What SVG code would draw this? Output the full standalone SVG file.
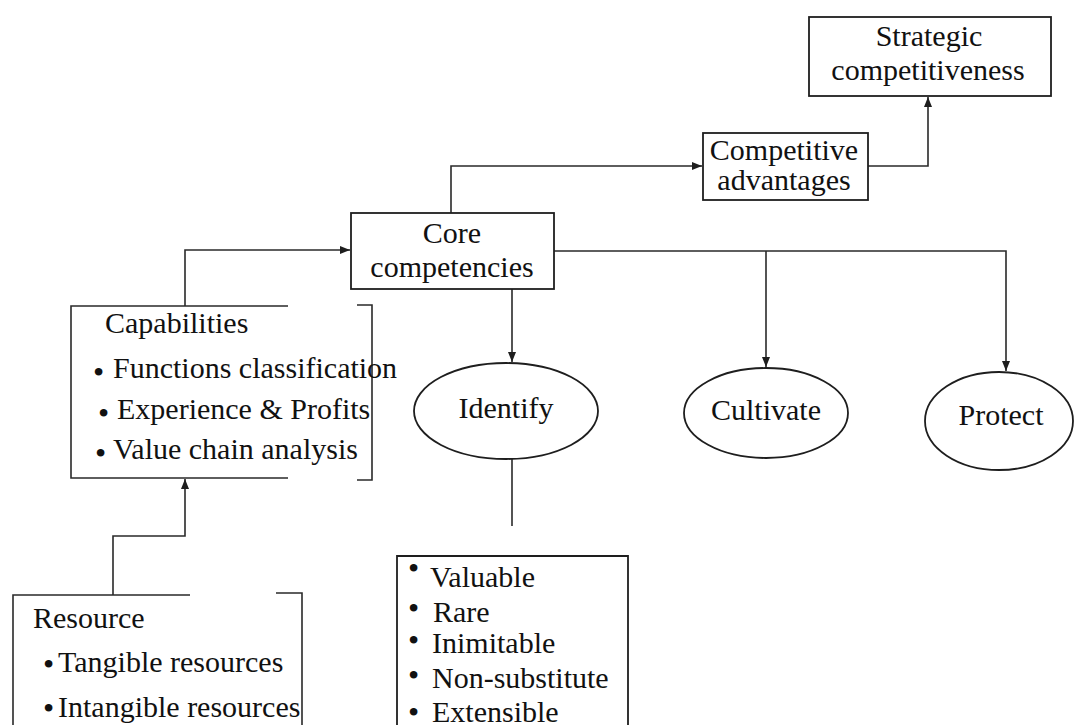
<svg xmlns="http://www.w3.org/2000/svg" width="1075" height="725" viewBox="0 0 1075 725">
  <style>
    .box { fill: #fff; stroke: #1e1e1e; stroke-width: 1.8; }
    .edge { fill: none; stroke: #2a2a2a; stroke-width: 1.6; }
    .arrow { fill: none; stroke: #2a2a2a; stroke-width: 1.6; marker-end: url(#head); }
    .t { font-family: "Liberation Serif", "Times New Roman", serif; font-size: 30px; fill: #111; }
    .c { text-anchor: middle; }
    .b { font-size: 32px; }
  </style>
  <defs>
    <marker id="head" viewBox="0 0 10 8" refX="10" refY="4" markerWidth="10" markerHeight="8" markerUnits="userSpaceOnUse" orient="auto">
      <path d="M0,0 L10,4 L0,8 Z" fill="#1e1e1e"/>
    </marker>
  </defs>
  <rect width="1075" height="725" fill="#fff"/>

  <!-- connectors -->
  <g id="connectors">
    <path class="arrow" d="M113,595 V536 H185 V479"/>
    <path class="arrow" d="M185,306 V250 H350"/>
    <path class="arrow" d="M451,213 V166 H702"/>
    <path class="arrow" d="M868,166 H928 V97"/>
    <path class="arrow" d="M512,289 V362"/>
    <path class="arrow" d="M554,251 H1006 V371"/>
    <path class="arrow" d="M766,251 V367"/>
    <path class="edge" d="M512,459 V526"/>
  </g>

  <g id="strategic">
    <rect class="box" x="809" y="17" width="242" height="79"/>
    <text class="t c" x="929" y="46">Strategic</text>
    <text class="t c" x="928" y="80">competitiveness</text>
  </g>

  <g id="competitive">
    <rect class="box" x="703" y="133" width="165" height="67"/>
    <text class="t c" x="784" y="160">Competitive</text>
    <text class="t c" x="784" y="190">advantages</text>
  </g>

  <g id="core">
    <rect class="box" x="351" y="213" width="203" height="76"/>
    <text class="t c" x="452" y="243">Core</text>
    <text class="t c" x="452" y="277">competencies</text>
  </g>

  <!-- bullet items: dot and label share one text element -->
  <g id="capabilities">
    <path class="edge" d="M288,306 H71 V478 H288"/>
    <path class="edge" d="M357,305 H372 V480 H357"/>
    <text class="t" x="105" y="333">Capabilities</text>
    <text class="t"><tspan class="b" x="93" y="383">•</tspan><tspan x="113" y="378">Functions classification</tspan></text>
    <text class="t"><tspan class="b" x="98" y="424">•</tspan><tspan x="117" y="419">Experience &amp; Profits</tspan></text>
    <text class="t"><tspan class="b" x="95" y="464">•</tspan><tspan x="113" y="459">Value chain analysis</tspan></text>
  </g>

  <g id="resource">
    <path class="edge" d="M190,595 H13 V730"/>
    <path class="edge" d="M276,593 H302 V730"/>
    <text class="t" x="33" y="628">Resource</text>
    <text class="t"><tspan class="b" x="43" y="675">•</tspan><tspan x="58" y="672">Tangible resources</tspan></text>
    <text class="t"><tspan class="b" x="43" y="719">•</tspan><tspan x="58" y="717">Intangible resources</tspan></text>
  </g>

  <g id="identify">
    <ellipse class="box" cx="506" cy="411" rx="92" ry="48"/>
    <text class="t c" x="506" y="418">Identify</text>
  </g>

  <g id="cultivate">
    <ellipse class="box" cx="766" cy="413" rx="82" ry="45"/>
    <text class="t c" x="766" y="420">Cultivate</text>
  </g>

  <g id="protect">
    <ellipse class="box" cx="999" cy="421" rx="74" ry="49"/>
    <text class="t c" x="1001" y="425">Protect</text>
  </g>

  <g id="criteria">
    <path class="box" d="M397,730 V556 H628 V730"/>
    <text class="t"><tspan class="b" x="408" y="579">•</tspan><tspan x="430" y="587">Valuable</tspan></text>
    <text class="t"><tspan class="b" x="408" y="619">•</tspan><tspan x="433" y="622">Rare</tspan></text>
    <text class="t"><tspan class="b" x="408" y="651">•</tspan><tspan x="432" y="653">Inimitable</tspan></text>
    <text class="t"><tspan class="b" x="408" y="686">•</tspan><tspan x="432" y="688">Non-substitute</tspan></text>
    <text class="t"><tspan class="b" x="408" y="723">•</tspan><tspan x="432" y="722">Extensible</tspan></text>
  </g>
</svg>
